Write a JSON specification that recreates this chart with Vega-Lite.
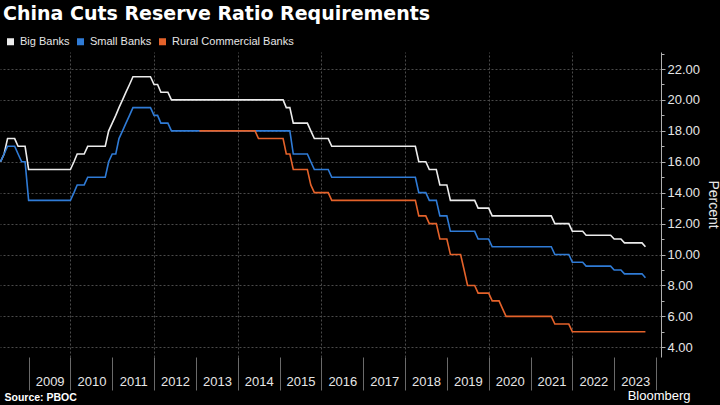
{
  "$schema": "https://vega.github.io/schema/vega-lite/v6.json",
  "width": 661,
  "height": 305,
  "autosize": {"type": "none"},
  "padding": {"left": 0, "top": 52, "right": 59, "bottom": 48},
  "background": "#000000",
  "title": {"text": "China Cuts Reserve Ratio Requirements", "anchor": "start", "frame": "group", "orient": "top", "font": "DejaVu Sans", "fontSize": 19, "fontWeight": "bold", "color": "#ffffff", "baseline": "alphabetic", "offset": -3, "dx": 3},
  "data": {"values": [
    {"d":"2008-05-01","b":16,"s":16},{"d":"2008-06-01","b":16.5,"s":16.5},{"d":"2008-07-01","b":17.5,"s":17},{"d":"2008-08-01","b":17.5,"s":17},{"d":"2008-09-01","b":17.5,"s":17},{"d":"2008-10-01","b":17,"s":16.5},{"d":"2008-11-01","b":17,"s":16},{"d":"2008-12-01","b":17,"s":16},
    {"d":"2009-01-01","b":15.5,"s":13.5},{"d":"2009-02-01","b":15.5,"s":13.5},{"d":"2009-03-01","b":15.5,"s":13.5},{"d":"2009-04-01","b":15.5,"s":13.5},{"d":"2009-05-01","b":15.5,"s":13.5},{"d":"2009-06-01","b":15.5,"s":13.5},{"d":"2009-07-01","b":15.5,"s":13.5},{"d":"2009-08-01","b":15.5,"s":13.5},{"d":"2009-09-01","b":15.5,"s":13.5},{"d":"2009-10-01","b":15.5,"s":13.5},{"d":"2009-11-01","b":15.5,"s":13.5},{"d":"2009-12-01","b":15.5,"s":13.5},
    {"d":"2010-01-01","b":15.5,"s":13.5},{"d":"2010-02-01","b":16,"s":14},{"d":"2010-03-01","b":16.5,"s":14.5},{"d":"2010-04-01","b":16.5,"s":14.5},{"d":"2010-05-01","b":16.5,"s":14.5},{"d":"2010-06-01","b":17,"s":15},{"d":"2010-07-01","b":17,"s":15},{"d":"2010-08-01","b":17,"s":15},{"d":"2010-09-01","b":17,"s":15},{"d":"2010-10-01","b":17,"s":15},{"d":"2010-11-01","b":17,"s":15},{"d":"2010-12-01","b":18,"s":16},
    {"d":"2011-01-01","b":18.5,"s":16.5},{"d":"2011-02-01","b":19,"s":16.5},{"d":"2011-03-01","b":19.5,"s":17.5},{"d":"2011-04-01","b":20,"s":18},{"d":"2011-05-01","b":20.5,"s":18.5},{"d":"2011-06-01","b":21,"s":19},{"d":"2011-07-01","b":21.5,"s":19.5},{"d":"2011-08-01","b":21.5,"s":19.5},{"d":"2011-09-01","b":21.5,"s":19.5},{"d":"2011-10-01","b":21.5,"s":19.5},{"d":"2011-11-01","b":21.5,"s":19.5},{"d":"2011-12-01","b":21.5,"s":19.5},
    {"d":"2012-01-01","b":21,"s":19},{"d":"2012-02-01","b":21,"s":19},{"d":"2012-03-01","b":20.5,"s":18.5},{"d":"2012-04-01","b":20.5,"s":18.5},{"d":"2012-05-01","b":20.5,"s":18.5},{"d":"2012-06-01","b":20,"s":18},{"d":"2012-07-01","b":20,"s":18},{"d":"2012-08-01","b":20,"s":18},{"d":"2012-09-01","b":20,"s":18},{"d":"2012-10-01","b":20,"s":18},{"d":"2012-11-01","b":20,"s":18},{"d":"2012-12-01","b":20,"s":18},
    {"d":"2013-01-01","b":20,"s":18},{"d":"2013-02-01","b":20,"s":18,"r":18},{"d":"2013-03-01","b":20,"s":18,"r":18},{"d":"2013-04-01","b":20,"s":18,"r":18},{"d":"2013-05-01","b":20,"s":18,"r":18},{"d":"2013-06-01","b":20,"s":18,"r":18},{"d":"2013-07-01","b":20,"s":18,"r":18},{"d":"2013-08-01","b":20,"s":18,"r":18},{"d":"2013-09-01","b":20,"s":18,"r":18},{"d":"2013-10-01","b":20,"s":18,"r":18},{"d":"2013-11-01","b":20,"s":18,"r":18},{"d":"2013-12-01","b":20,"s":18,"r":18},
    {"d":"2014-01-01","b":20,"s":18,"r":18},{"d":"2014-02-01","b":20,"s":18,"r":18},{"d":"2014-03-01","b":20,"s":18,"r":18},{"d":"2014-04-01","b":20,"s":18,"r":18},{"d":"2014-05-01","b":20,"s":18,"r":18},{"d":"2014-06-01","b":20,"s":18,"r":18},{"d":"2014-07-01","b":20,"s":18,"r":17.5},{"d":"2014-08-01","b":20,"s":18,"r":17.5},{"d":"2014-09-01","b":20,"s":18,"r":17.5},{"d":"2014-10-01","b":20,"s":18,"r":17.5},{"d":"2014-11-01","b":20,"s":18,"r":17.5},{"d":"2014-12-01","b":20,"s":18,"r":17.5},
    {"d":"2015-01-01","b":20,"s":18,"r":17.5},{"d":"2015-02-01","b":20,"s":18,"r":17.5},{"d":"2015-03-01","b":19.5,"s":18,"r":16.5},{"d":"2015-04-01","b":19.5,"s":18,"r":16.5},{"d":"2015-05-01","b":18.5,"s":16.5,"r":15.5},{"d":"2015-06-01","b":18.5,"s":16.5,"r":15.5},{"d":"2015-07-01","b":18.5,"s":16.5,"r":15.5},{"d":"2015-08-01","b":18.5,"s":16.5,"r":15.5},{"d":"2015-09-01","b":18.5,"s":16.5,"r":15.5},{"d":"2015-10-01","b":18,"s":16,"r":14.5},{"d":"2015-11-01","b":17.5,"s":15.5,"r":14},{"d":"2015-12-01","b":17.5,"s":15.5,"r":14},
    {"d":"2016-01-01","b":17.5,"s":15.5,"r":14},{"d":"2016-02-01","b":17.5,"s":15.5,"r":14},{"d":"2016-03-01","b":17.5,"s":15.5,"r":14},{"d":"2016-04-01","b":17,"s":15,"r":13.5},{"d":"2016-05-01","b":17,"s":15,"r":13.5},{"d":"2016-06-01","b":17,"s":15,"r":13.5},{"d":"2016-07-01","b":17,"s":15,"r":13.5},{"d":"2016-08-01","b":17,"s":15,"r":13.5},{"d":"2016-09-01","b":17,"s":15,"r":13.5},{"d":"2016-10-01","b":17,"s":15,"r":13.5},{"d":"2016-11-01","b":17,"s":15,"r":13.5},{"d":"2016-12-01","b":17,"s":15,"r":13.5},
    {"d":"2017-01-01","b":17,"s":15,"r":13.5},{"d":"2017-02-01","b":17,"s":15,"r":13.5},{"d":"2017-03-01","b":17,"s":15,"r":13.5},{"d":"2017-04-01","b":17,"s":15,"r":13.5},{"d":"2017-05-01","b":17,"s":15,"r":13.5},{"d":"2017-06-01","b":17,"s":15,"r":13.5},{"d":"2017-07-01","b":17,"s":15,"r":13.5},{"d":"2017-08-01","b":17,"s":15,"r":13.5},{"d":"2017-09-01","b":17,"s":15,"r":13.5},{"d":"2017-10-01","b":17,"s":15,"r":13.5},{"d":"2017-11-01","b":17,"s":15,"r":13.5},{"d":"2017-12-01","b":17,"s":15,"r":13.5},
    {"d":"2018-01-01","b":17,"s":15,"r":13.5},{"d":"2018-02-01","b":17,"s":15,"r":13.5},{"d":"2018-03-01","b":17,"s":15,"r":13.5},{"d":"2018-04-01","b":17,"s":15,"r":13.5},{"d":"2018-05-01","b":16,"s":14,"r":12.5},{"d":"2018-06-01","b":16,"s":14,"r":12.5},{"d":"2018-07-01","b":16,"s":14,"r":12.5},{"d":"2018-08-01","b":15.5,"s":13.5,"r":12},{"d":"2018-09-01","b":15.5,"s":13.5,"r":12},{"d":"2018-10-01","b":15.5,"s":13.5,"r":12},{"d":"2018-11-01","b":14.5,"s":12.5,"r":11},{"d":"2018-12-01","b":14.5,"s":12.5,"r":11},
    {"d":"2019-01-01","b":14.5,"s":12.5,"r":11},{"d":"2019-02-01","b":13.5,"s":11.5,"r":10},{"d":"2019-03-01","b":13.5,"s":11.5,"r":10},{"d":"2019-04-01","b":13.5,"s":11.5,"r":10},{"d":"2019-05-01","b":13.5,"s":11.5,"r":10},{"d":"2019-06-01","b":13.5,"s":11.5,"r":9},{"d":"2019-07-01","b":13.5,"s":11.5,"r":8},{"d":"2019-08-01","b":13.5,"s":11.5,"r":8},{"d":"2019-09-01","b":13.5,"s":11.5,"r":8},{"d":"2019-10-01","b":13,"s":11,"r":7.5},{"d":"2019-11-01","b":13,"s":11,"r":7.5},{"d":"2019-12-01","b":13,"s":11,"r":7.5},
    {"d":"2020-01-01","b":13,"s":11,"r":7.5},{"d":"2020-02-01","b":12.5,"s":10.5,"r":7},{"d":"2020-03-01","b":12.5,"s":10.5,"r":7},{"d":"2020-04-01","b":12.5,"s":10.5,"r":7},{"d":"2020-05-01","b":12.5,"s":10.5,"r":6.5},{"d":"2020-06-01","b":12.5,"s":10.5,"r":6},{"d":"2020-07-01","b":12.5,"s":10.5,"r":6},{"d":"2020-08-01","b":12.5,"s":10.5,"r":6},{"d":"2020-09-01","b":12.5,"s":10.5,"r":6},{"d":"2020-10-01","b":12.5,"s":10.5,"r":6},{"d":"2020-11-01","b":12.5,"s":10.5,"r":6},{"d":"2020-12-01","b":12.5,"s":10.5,"r":6},
    {"d":"2021-01-01","b":12.5,"s":10.5,"r":6},{"d":"2021-02-01","b":12.5,"s":10.5,"r":6},{"d":"2021-03-01","b":12.5,"s":10.5,"r":6},{"d":"2021-04-01","b":12.5,"s":10.5,"r":6},{"d":"2021-05-01","b":12.5,"s":10.5,"r":6},{"d":"2021-06-01","b":12.5,"s":10.5,"r":6},{"d":"2021-07-01","b":12.5,"s":10.5,"r":6},{"d":"2021-08-01","b":12,"s":10,"r":5.5},{"d":"2021-09-01","b":12,"s":10,"r":5.5},{"d":"2021-10-01","b":12,"s":10,"r":5.5},{"d":"2021-11-01","b":12,"s":10,"r":5.5},{"d":"2021-12-01","b":12,"s":10,"r":5.5},
    {"d":"2022-01-01","b":11.5,"s":9.5,"r":5},{"d":"2022-02-01","b":11.5,"s":9.5,"r":5},{"d":"2022-03-01","b":11.5,"s":9.5,"r":5},{"d":"2022-04-01","b":11.5,"s":9.5,"r":5},{"d":"2022-05-01","b":11.25,"s":9.25,"r":5},{"d":"2022-06-01","b":11.25,"s":9.25,"r":5},{"d":"2022-07-01","b":11.25,"s":9.25,"r":5},{"d":"2022-08-01","b":11.25,"s":9.25,"r":5},{"d":"2022-09-01","b":11.25,"s":9.25,"r":5},{"d":"2022-10-01","b":11.25,"s":9.25,"r":5},{"d":"2022-11-01","b":11.25,"s":9.25,"r":5},{"d":"2022-12-01","b":11.25,"s":9.25,"r":5},
    {"d":"2023-01-01","b":11,"s":9,"r":5},{"d":"2023-02-01","b":11,"s":9,"r":5},{"d":"2023-03-01","b":11,"s":9,"r":5},{"d":"2023-04-01","b":10.75,"s":8.75,"r":5},{"d":"2023-05-01","b":10.75,"s":8.75,"r":5},{"d":"2023-06-01","b":10.75,"s":8.75,"r":5},{"d":"2023-07-01","b":10.75,"s":8.75,"r":5},{"d":"2023-08-01","b":10.75,"s":8.75,"r":5},{"d":"2023-09-01","b":10.75,"s":8.75,"r":5},{"d":"2023-10-01","b":10.5,"s":8.5,"r":5}
  ]},
  "transform": [
    {"fold": ["b", "s", "r"], "as": ["k", "v"]},
    {"filter": "isValid(datum.v)"}
  ],
  "layer": [
    {
      "mark": {"type": "line", "opacity": 0},
      "encoding": {
        "x": {"field": "d", "type": "temporal",
          "scale": {"type": "utc", "domain": [{"year": 2008, "month": 4, "date": 26, "utc": true}, {"year": 2024, "month": 2, "date": 14, "utc": true}]},
          "axis": {"orient": "bottom", "grid": false, "domain": false, "ticks": true, "tickSize": 33, "tickColor": "#6a6a6a",
            "values": [{"year": 2009, "month": 1, "date": 1, "utc": true}, {"year": 2010, "month": 1, "date": 1, "utc": true}, {"year": 2011, "month": 1, "date": 1, "utc": true}, {"year": 2012, "month": 1, "date": 1, "utc": true}, {"year": 2013, "month": 1, "date": 1, "utc": true}, {"year": 2014, "month": 1, "date": 1, "utc": true}, {"year": 2015, "month": 1, "date": 1, "utc": true}, {"year": 2016, "month": 1, "date": 1, "utc": true}, {"year": 2017, "month": 1, "date": 1, "utc": true}, {"year": 2018, "month": 1, "date": 1, "utc": true}, {"year": 2019, "month": 1, "date": 1, "utc": true}, {"year": 2020, "month": 1, "date": 1, "utc": true}, {"year": 2021, "month": 1, "date": 1, "utc": true}, {"year": 2022, "month": 1, "date": 1, "utc": true}, {"year": 2023, "month": 1, "date": 1, "utc": true}, {"year": 2024, "month": 1, "date": 1, "utc": true}],
            "labelExpr": "utcyear(datum.value) > 2023 ? '' : '' + utcyear(datum.value)",
            "labelAlign": "center", "labelBaseline": "middle", "labelOffset": 21, "labelPadding": -9, "labelFlush": false, "labelOverlap": false,
            "labelFontSize": 13, "labelColor": "#e6e6e6",
            "title": "Source: PBOC", "titleX": 4, "titleY": 40, "titleAlign": "left", "titleBaseline": "middle", "titleFontSize": 10.5, "titleFontWeight": "bold", "titleColor": "#ffffff"}},
        "y": {"field": "v", "type": "quantitative",
          "scale": {"domain": [3.37, 23.1], "nice": false, "zero": false},
          "axis": {"orient": "right", "values": [4, 6, 8, 10, 12, 14, 16, 18, 20, 22], "format": ".2f",
            "grid": true, "gridColor": "#4a4a4a", "gridDash": [2, 2], "gridWidth": 1,
            "domain": true, "domainColor": "#b0b0b0", "ticks": true, "tickSize": 4, "tickColor": "#b0b0b0",
            "labelFontSize": 13, "labelColor": "#e6e6e6", "labelPadding": 2,
            "title": "Percent", "titleAngle": 90, "titleX": 51, "titleY": 152, "titleAlign": "center", "titleBaseline": "middle", "titleFontSize": 14, "titleFontWeight": "normal", "titleColor": "#e6e6e6"}},
        "detail": {"field": "k"}
      }
    },
    {
      "mark": {"type": "line", "strokeWidth": 1.6},
      "encoding": {
        "x": {"field": "d", "type": "temporal",
          "scale": {"type": "utc", "domain": [{"year": 2008, "month": 4, "date": 26, "utc": true}, {"year": 2024, "month": 2, "date": 14, "utc": true}]},
          "axis": {"orient": "top", "grid": true, "gridColor": "#4a4a4a", "gridDash": [2, 2], "gridWidth": 1, "domain": false, "ticks": false, "labels": false,
            "values": [{"year": 2010, "month": 1, "date": 1, "utc": true}, {"year": 2012, "month": 1, "date": 1, "utc": true}, {"year": 2014, "month": 1, "date": 1, "utc": true}, {"year": 2016, "month": 1, "date": 1, "utc": true}, {"year": 2018, "month": 1, "date": 1, "utc": true}, {"year": 2020, "month": 1, "date": 1, "utc": true}, {"year": 2022, "month": 1, "date": 1, "utc": true}],
            "title": "Bloomberg", "titleX": 690, "titleY": 343, "titleAlign": "right", "titleBaseline": "middle", "titleFontSize": 13, "titleFontWeight": "normal", "titleColor": "#ffffff"}},
        "y": {"field": "v", "type": "quantitative",
          "scale": {"domain": [3.37, 23.1], "nice": false, "zero": false},
          "axis": {"orient": "right", "values": [5, 7, 9, 11, 13, 15, 17, 19, 21, 23], "grid": false, "domain": false, "labels": false, "ticks": true, "tickSize": 3, "tickColor": "#b0b0b0", "title": null}},
        "color": {"field": "k", "type": "nominal",
          "scale": {"domain": ["b", "s", "r"], "range": ["#ececec", "#2f7bd6", "#e4622a"]},
          "legend": {"orient": "none", "legendX": 5, "legendY": -16, "direction": "horizontal", "title": null,
            "labelExpr": "datum.label == 'b' ? 'Big Banks' : datum.label == 's' ? 'Small Banks' : 'Rural Commercial Banks'",
            "symbolType": "square", "symbolSize": 49, "symbolStrokeWidth": 0,
            "labelFontSize": 11, "labelColor": "#e6e6e6", "labelOffset": 4, "columnPadding": 5, "padding": 0,
            "encode": {"symbols": {"update": {"fill": {"scale": "color", "field": "value"}, "stroke": {"value": "transparent"}}}}}}
      }
    }
  ],
  "resolve": {"axis": {"x": "independent", "y": "independent"}},
  "config": {
    "view": {"stroke": null},
    "font": "Liberation Sans"
  }
}
